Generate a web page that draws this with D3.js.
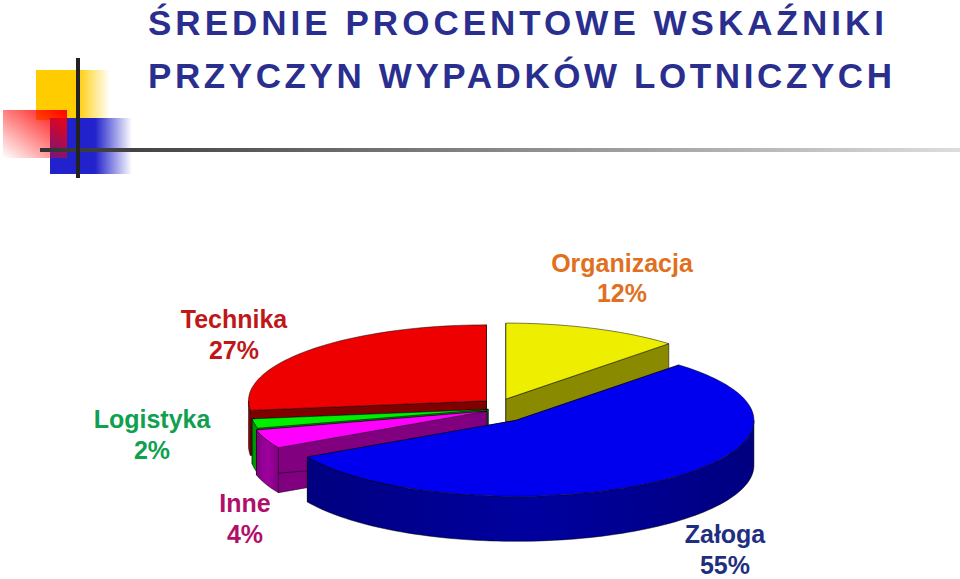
<!DOCTYPE html>
<html><head><meta charset="utf-8">
<script src="https://cdn.jsdelivr.net/npm/d3@7"></script>
<style>body{margin:0;background:#fff}svg{display:block;font-family:Arial,"Liberation Sans",sans-serif}</style>
</head><body><svg id="chart" width="960" height="579"></svg>
<script>
const categories = ['Organizacja', 'Załoga', 'Inne', 'Logistyka', 'Technika'];
const values = [12, 55, 4, 2, 27];
const labels = ['12%', '55%', '4%', '2%', '27%'];
const topColors = ['#eeee00', '#0000ee', '#ff00ff', '#00ee00', '#ee0000'];
const sideColors = ['#8a8a00', '#000080', '#800080', '#008000', '#800000'];
const labelColors = ['#e07020', '#1f2f7f', '#b0106a', '#10a050', '#c01818'];
const explode = [16, 26, 14, 12, 18];
const labelPos = [[622, 272, 302], [725, 543, 574], [245, 512, 543], [152, 428, 459], [234, 328, 359]];

const svg = d3.select('#chart');
const defs = svg.append('defs');
function grad(id, x1, y1, x2, y2, stops) {
    const g = defs.append('linearGradient').attr('id', id)
        .attr('x1', x1).attr('y1', y1).attr('x2', x2).attr('y2', y2);
    stops.forEach(s => g.append('stop').attr('offset', s[0]).attr('stop-color', s[1]).attr('stop-opacity', s[2]));
}
grad('gy', 0, 0, 1, 0, [[0, '#ffcc00', 1], [0.55, '#ffcc00', 1], [1, '#ffcc00', 0]]);
grad('gr', 1, 0, 0, 1, [[0, '#ff0000', 1], [1, '#ff0000', 0]]);
grad('gb', 0, 0, 1, 0, [[0, '#2222cc', 1], [0.55, '#2222cc', 1], [1, '#2222cc', 0]]);
grad('gl', 0, 0, 1, 0, [[0, '#333', 1], [0.5, '#888', 1], [1, '#ddd', 1]]);

// decoration
svg.append('rect').attr('x', 36).attr('y', 70).attr('width', 74).attr('height', 50).attr('fill', 'url(#gy)');
svg.append('rect').attr('x', 50).attr('y', 118).attr('width', 82).attr('height', 56).attr('fill', 'url(#gb)');
svg.append('rect').attr('x', 3).attr('y', 110).attr('width', 64).attr('height', 48).attr('fill', 'url(#gr)');
svg.append('rect').attr('x', 40).attr('y', 148).attr('width', 920).attr('height', 4).attr('fill', 'url(#gl)');
svg.append('rect').attr('x', 76).attr('y', 58).attr('width', 4).attr('height', 120).attr('fill', '#222');

svg.append('text').attr('x', 148).attr('y', 35).attr('font-size', 35).attr('font-weight', 'bold')
    .attr('textLength', 736).attr('fill', '#2a2f8f').text('ŚREDNIE PROCENTOWE WSKAŹNIKI');
svg.append('text').attr('x', 148).attr('y', 88).attr('font-size', 35).attr('font-weight', 'bold')
    .attr('textLength', 744).attr('fill', '#2a2f8f').text('PRZYCZYN WYPADKÓW LOTNICZYCH');

// 3D pie
const cx = 500, cy = 408, rx = 238, ry = 76, depth = 45;
const arcs = d3.pie().sort(null).value(d => d)(values);
const pt = (ox, oy, a, dz) => [ox + rx * Math.sin(a), oy - ry * Math.cos(a) + dz];

const slices = arcs.map((a, i) => {
    const mid = (a.startAngle + a.endAngle) / 2;
    const ox = cx + explode[i] * Math.sin(mid), oy = cy - explode[i] * 0.6 * Math.cos(mid);
    return {a, i, ox, oy, mid};
});

function arcPts(s, a0, a1, dz) {
    const n = Math.max(2, Math.ceil((a1 - a0) / 0.03));
    return d3.range(n + 1).map(k => pt(s.ox, s.oy, a0 + (a1 - a0) * k / n, dz));
}
const line = p => 'M' + p.map(q => q.join(',')).join('L') + 'Z';

slices.sort((p, q) => -Math.cos(p.mid) - -Math.cos(q.mid));
slices.forEach(s => {
    const g = svg.append('g');
    const {startAngle: a0, endAngle: a1} = s.a;
    const c = [s.ox, s.oy];
    // radial walls
    [a0, a1].forEach(a => {
        const e = pt(s.ox, s.oy, a, 0);
        g.append('path').attr('d', line([c, e, [e[0], e[1] + depth], [c[0], c[1] + depth]]))
            .attr('fill', sideColors[s.i]).attr('stroke', '#000').attr('stroke-width', 0.5);
    });
    // outer wall (front half)
    const f0 = Math.max(a0, Math.PI / 2), f1 = Math.min(a1, Math.PI * 1.5);
    if (f1 > f0) {
        const top = arcPts(s, f0, f1, 0), bot = arcPts(s, f0, f1, depth).reverse();
        const gid = 'w' + s.i;
        grad(gid, 0, 0, 1, 0, [[0, sideColors[s.i], 1], [0.5, d3.color(sideColors[s.i]).brighter(0.6), 1], [1, sideColors[s.i], 1]]);
        g.append('path').attr('d', line(top.concat(bot))).attr('fill', 'url(#' + gid + ')')
            .attr('stroke', '#000').attr('stroke-width', 0.5);
    }
    g.append('path').attr('d', line([c].concat(arcPts(s, a0, a1, 0))))
        .attr('fill', topColors[s.i]).attr('stroke', '#000').attr('stroke-width', 0.5);
});

// labels
categories.forEach((c, i) => {
    const [x, y1, y2] = labelPos[i];
    const t = svg.append('text').attr('text-anchor', 'middle').attr('font-size', 25)
        .attr('font-weight', 'bold').attr('fill', labelColors[i]);
    t.append('tspan').attr('x', x).attr('y', y1).text(c);
    t.append('tspan').attr('x', x).attr('y', y2).text(labels[i]);
});
</script></body></html>
